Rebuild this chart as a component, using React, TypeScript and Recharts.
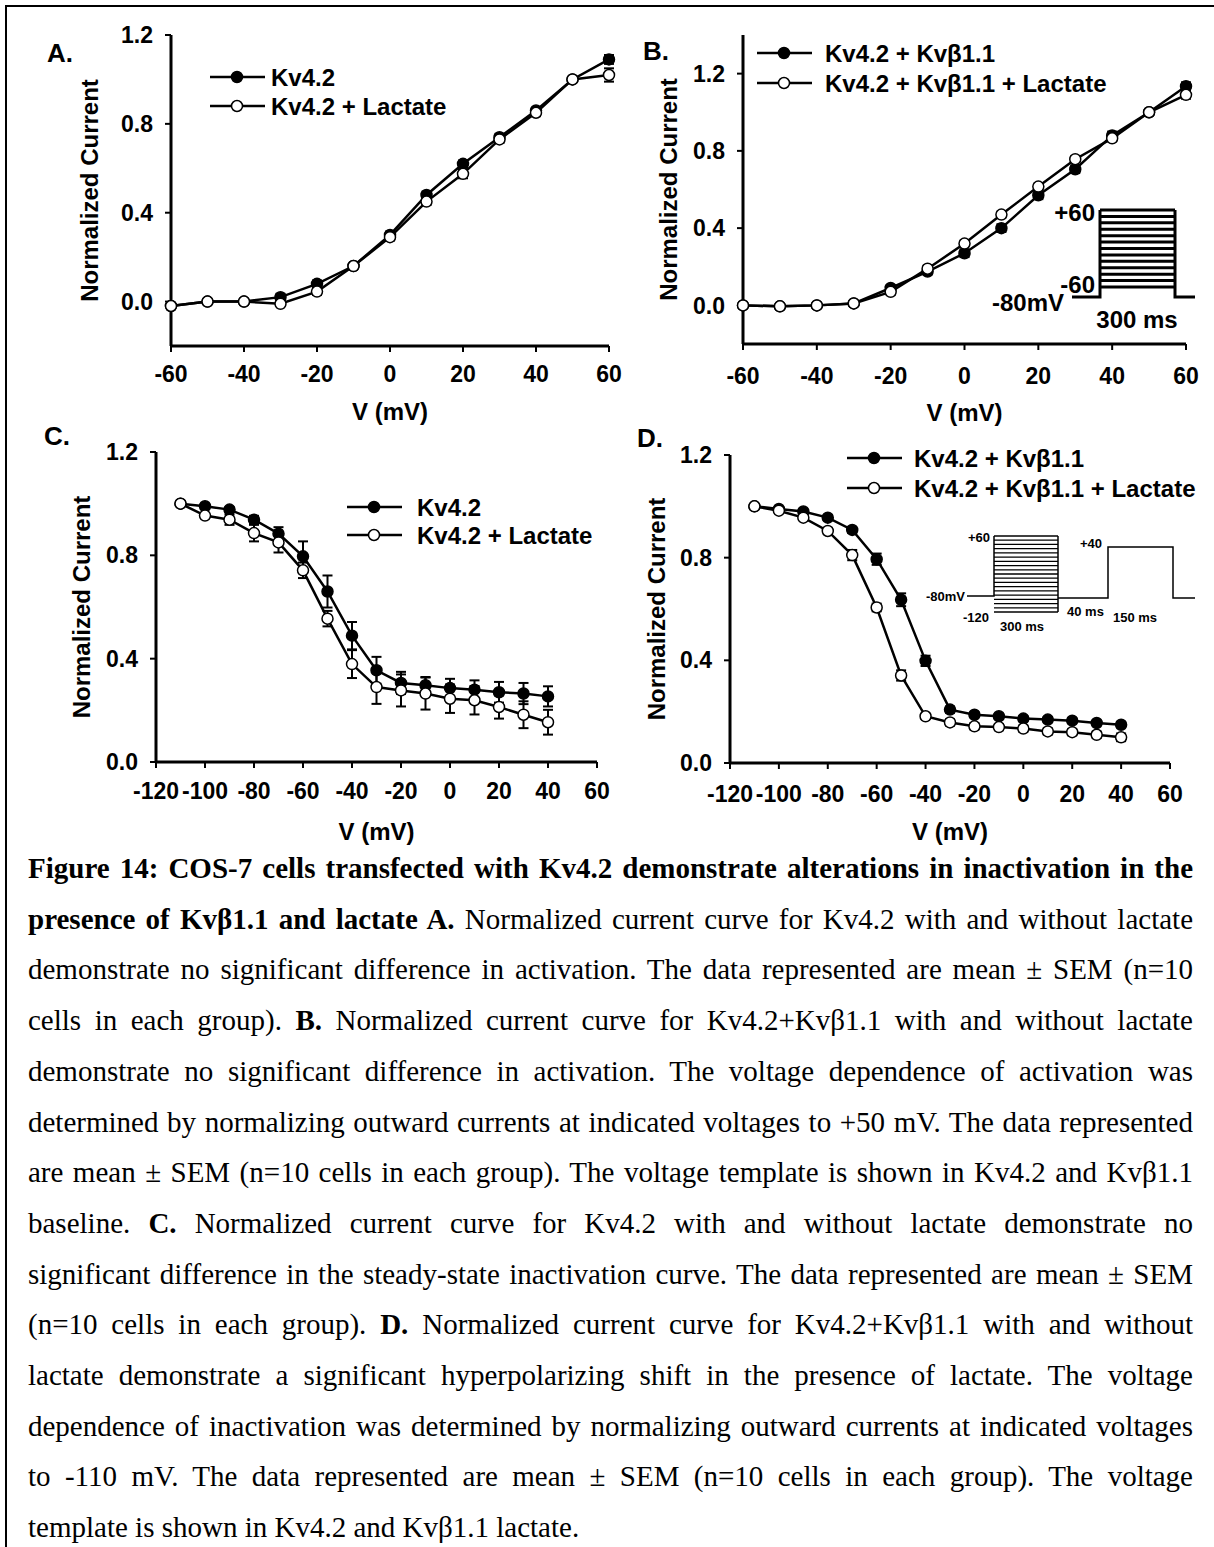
import React from 'react';
import { LineChart, Line, XAxis, YAxis, ErrorBar, Legend } from 'recharts';

const FONT = "'Liberation Sans', Arial, Helvetica, sans-serif";
const SERIF = "'Liberation Serif', 'Times New Roman', serif";

// A + B: activation, -60..+60 mV
const actVolts = [-60, -50, -40, -30, -20, -10, 0, 10, 20, 30, 40, 50, 60];
const aKv = [-0.02, 0.0, 0.0, 0.02, 0.08, 0.16, 0.3, 0.48, 0.62, 0.74, 0.86, 1.0, 1.09];
const aKvErr = [0.01, 0.005, 0.005, 0.015, 0.015, 0.01, 0.015, 0.015, 0.015, 0.015, 0.01, 0, 0.02];
const aLac = [-0.02, 0.0, 0.0, -0.01, 0.045, 0.16, 0.29, 0.45, 0.575, 0.73, 0.85, 1.0, 1.02];
const aLacErr = [0.01, 0.005, 0.005, 0.01, 0.015, 0.01, 0.015, 0.015, 0.02, 0.015, 0.015, 0, 0.03];

const bKv = [0.0, -0.005, 0.0, 0.01, 0.09, 0.175, 0.27, 0.4, 0.57, 0.705, 0.88, 1.0, 1.135];
const bKvErr = [0.005, 0.005, 0.005, 0.01, 0.015, 0.015, 0.02, 0.02, 0.02, 0.02, 0.02, 0, 0.02];
const bLac = [0.0, -0.005, 0.0, 0.01, 0.07, 0.19, 0.32, 0.47, 0.615, 0.757, 0.865, 1.0, 1.09];
const bLacErr = [0.005, 0.005, 0.005, 0.01, 0.015, 0.015, 0.015, 0.015, 0.015, 0.015, 0.015, 0, 0.02];

// C + D: steady-state inactivation, -110..+40 mV
const inactVolts = [-110, -100, -90, -80, -70, -60, -50, -40, -30, -20, -10, 0, 10, 20, 30, 40];
const cKv = [1.0, 0.99, 0.977, 0.938, 0.884, 0.796, 0.66, 0.489, 0.355, 0.306, 0.297, 0.286, 0.28, 0.27, 0.265, 0.254];
const cKvErr = [0, 0.01, 0.01, 0.015, 0.025, 0.058, 0.062, 0.053, 0.052, 0.043, 0.032, 0.036, 0.036, 0.04, 0.041, 0.039];
const cLac = [1.0, 0.954, 0.938, 0.886, 0.85, 0.742, 0.555, 0.379, 0.29, 0.277, 0.265, 0.245, 0.239, 0.213, 0.183, 0.154];
const cLacErr = [0, 0.01, 0.02, 0.032, 0.039, 0.03, 0.03, 0.054, 0.065, 0.062, 0.062, 0.055, 0.055, 0.045, 0.052, 0.048];

const dKv = [1.0, 0.99, 0.98, 0.956, 0.908, 0.794, 0.636, 0.398, 0.208, 0.188, 0.182, 0.173, 0.169, 0.165, 0.156, 0.149];
const dKvErr = [0, 0.005, 0.008, 0.01, 0.012, 0.022, 0.025, 0.02, 0.012, 0.01, 0.01, 0.01, 0.01, 0.01, 0.01, 0.01];
const dLac = [1.0, 0.983, 0.956, 0.904, 0.81, 0.606, 0.341, 0.182, 0.158, 0.143, 0.14, 0.134, 0.123, 0.12, 0.11, 0.1];
const dLacErr = [0, 0.005, 0.008, 0.012, 0.02, 0.015, 0.02, 0.01, 0.012, 0.012, 0.012, 0.012, 0.012, 0.012, 0.012, 0.015];

const actTicks = [-60, -40, -20, 0, 20, 40, 60];
const inactTicks = [-120, -100, -80, -60, -40, -20, 0, 20, 40, 60];
const currentTicks = [0, 0.4, 0.8, 1.2];

const namesKv = ['Kv4.2', 'Kv4.2 + Lactate'];
const namesBeta = ['Kv4.2 + Kvβ1.1', 'Kv4.2 + Kvβ1.1 + Lactate'];

// voltage protocol steps for the two inset templates
const stepsB = [-60, -50, -40, -30, -20, -10, 0, 10, 20, 30, 40, 50, 60];
const stepsD = [-120, -110, -100, -90, -80, -70, -60, -50, -40, -30, -20, -10, 0, 10, 20, 30, 40, 50, 60];

const CAPTION: [string, boolean][][] = [
  [['Figure 14: COS-7 cells transfected with Kv4.2 demonstrate alterations in inactivation in the', true]],
  [['presence of Kvβ1.1 and lactate A.', true], [' Normalized current curve for Kv4.2 with and without lactate', false]],
  [['demonstrate no significant difference in activation. The data represented are mean ± SEM (n=10', false]],
  [['cells in each group). ', false], ['B.', true], [' Normalized current curve for Kv4.2+Kvβ1.1 with and without lactate', false]],
  [['demonstrate no significant difference in activation. The voltage dependence of activation was', false]],
  [['determined by normalizing outward currents at indicated voltages to +50 mV. The data represented', false]],
  [['are mean ± SEM (n=10 cells in each group). The voltage template is shown in Kv4.2 and Kvβ1.1', false]],
  [['baseline. ', false], ['C.', true], [' Normalized current curve for Kv4.2 with and without lactate demonstrate no', false]],
  [['significant difference in the steady-state inactivation curve. The data represented are mean ± SEM', false]],
  [['(n=10 cells in each group). ', false], ['D.', true], [' Normalized current curve for Kv4.2+Kvβ1.1 with and without', false]],
  [['lactate demonstrate a significant hyperpolarizing shift in the presence of lactate. The voltage', false]],
  [['dependence of inactivation was determined by normalizing outward currents at indicated voltages', false]],
  [['to -110 mV. The data represented are mean ± SEM (n=10 cells in each group). The voltage', false]],
  [['template is shown in Kv4.2 and Kvβ1.1 lactate.', false]],
];

const Y_W = 110;
const X_H = 90;
const M_T = 12;
const M_R = 30;

const rowsOf = (v: number[], s1: number[], e1: number[], s2: number[], e2: number[]) =>
  v.map((x, i) => ({ v: x, s1: s1[i], e1: e1[i], s2: s2[i], e2: e2[i] }));

const tickStyle = { fill: '#000', fontSize: 23, fontWeight: 700, fontFamily: FONT };

type Box = { l: number; r: number; t: number; b: number };
type Leg = { x: number; y: number; gap: number; textDx: number };

function LegendMarks({ payload, names, leg }: { payload?: any[]; names: string[]; leg: Leg }) {
  const items = payload && payload.length ? payload.map((p) => String(p.value)) : names;
  return (
    <svg width={420} height={leg.gap + 32} style={{ overflow: 'visible', display: 'block' }}>
      {items.map((n, i) => {
        const y = 15 + i * leg.gap;
        return (
          <g key={n}>
            <line x1={0} y1={y} x2={55} y2={y} stroke="#000" strokeWidth={2.5} />
            <circle cx={27} cy={y} r={5.5} fill={i === 0 ? '#000' : '#fff'} stroke="#000" strokeWidth={1.5} />
            <text x={leg.textDx} y={y} dominantBaseline="central" fontSize={24} fontWeight={700} fontFamily={FONT} fill="#000">
              {n}
            </text>
          </g>
        );
      })}
    </svg>
  );
}

function Panel(props: {
  rows: any[];
  box: Box;
  xDomain: [number, number];
  xTicks: number[];
  yDomain: [number, number];
  names: string[];
  xTickGap: number;
  xLabelGap: number;
  yLabelGap: number;
  leg: Leg;
}) {
  const { rows, box, xDomain, xTicks, yDomain, names, xTickGap, xLabelGap, yLabelGap, leg } = props;
  const width = box.r - box.l + Y_W + M_R;
  const height = box.b - box.t + M_T + X_H;
  const left = box.l - Y_W;
  const top = box.t - M_T;
  return (
    <div style={{ position: 'absolute', left, top, width, height }}>
      <LineChart width={width} height={height} data={rows} margin={{ top: M_T, right: M_R, left: 0, bottom: 0 }}>
        <XAxis
          type="number"
          dataKey="v"
          domain={xDomain}
          ticks={xTicks}
          interval={0}
          height={X_H}
          axisLine={{ stroke: '#000', strokeWidth: 3 }}
          tickLine={{ stroke: '#000', strokeWidth: 2 }}
          tickSize={6}
          tickMargin={xTickGap}
          tick={tickStyle}
          label={{
            value: 'V (mV)',
            position: 'insideBottom',
            offset: X_H - xLabelGap - 8,
            fill: '#000',
            fontSize: 24,
            fontWeight: 700,
            fontFamily: FONT,
          }}
        />
        <YAxis
          type="number"
          domain={yDomain}
          ticks={currentTicks}
          interval={0}
          width={Y_W}
          tickFormatter={(v: number) => v.toFixed(1)}
          axisLine={{ stroke: '#000', strokeWidth: 3 }}
          tickLine={{ stroke: '#000', strokeWidth: 2 }}
          tickSize={6}
          tickMargin={12}
          tick={tickStyle}
          label={{
            value: 'Normalized Current',
            angle: -90,
            position: 'insideLeft',
            offset: Y_W - yLabelGap,
            style: { textAnchor: 'middle' },
            fill: '#000',
            fontSize: 24,
            fontWeight: 700,
            fontFamily: FONT,
          }}
        />
        <Legend
          layout="vertical"
          align="center"
          verticalAlign="middle"
          wrapperStyle={{ left: leg.x - left, top: leg.y - 15 - top, width: 'auto' }}
          content={(p: any) => <LegendMarks payload={p.payload} names={names} leg={leg} />}
        />
        <Line
          dataKey="s1"
          name={names[0]}
          type="linear"
          stroke="#000"
          strokeWidth={2.5}
          dot={{ r: 5.5, fill: '#000', stroke: '#000', strokeWidth: 1.5 }}
          activeDot={false}
          isAnimationActive={false}
        >
          <ErrorBar dataKey="e1" direction="y" width={5} stroke="#000" strokeWidth={2} />
        </Line>
        <Line
          dataKey="s2"
          name={names[1]}
          type="linear"
          stroke="#000"
          strokeWidth={2.5}
          dot={{ r: 5.5, fill: '#fff', stroke: '#000', strokeWidth: 1.5 }}
          activeDot={false}
          isAnimationActive={false}
        >
          <ErrorBar dataKey="e2" direction="y" width={5} stroke="#000" strokeWidth={2} />
        </Line>
      </LineChart>
    </div>
  );
}

const boldText = { fontFamily: FONT, fontWeight: 700, fill: '#000' } as const;

function Insets() {
  // B: activation protocol, steps from -60 to +60 mV
  const bTop = 210;
  const bBot = 287;
  const yB = (v: number) => bBot - ((v + 60) / 120) * (bBot - bTop);
  // D: inactivation protocol, prepulses from -120 to +60 mV
  const dTop = 536;
  const dBot = 612;
  const yD = (v: number) => dBot - ((v + 120) / 180) * (dBot - dTop);
  return (
    <svg width={1199} height={850} style={{ position: 'absolute', left: 0, top: 0 }}>
      <text x={47} y={62} fontSize={26} {...boldText}>A.</text>
      <text x={643} y={60} fontSize={26} {...boldText}>B.</text>
      <text x={44} y={445} fontSize={26} {...boldText}>C.</text>
      <text x={637} y={447} fontSize={26} {...boldText}>D.</text>

      {stepsB.map((v) => (
        <line key={v} x1={1100} x2={1175} y1={yB(v)} y2={yB(v)} stroke="#000" strokeWidth={3} />
      ))}
      <path d="M1072 297 H1100 V210 M1175 210 V297 H1195" fill="none" stroke="#000" strokeWidth={3} />
      <text x={1095} y={212} fontSize={24} textAnchor="end" dominantBaseline="central" {...boldText}>+60</text>
      <text x={1095} y={284} fontSize={24} textAnchor="end" dominantBaseline="central" {...boldText}>-60</text>
      <text x={1064} y={302} fontSize={24} textAnchor="end" dominantBaseline="central" {...boldText}>-80mV</text>
      <text x={1137} y={319} fontSize={24} textAnchor="middle" dominantBaseline="central" {...boldText}>300 ms</text>

      {stepsD.map((v) => (
        <line key={v} x1={994} x2={1058} y1={yD(v)} y2={yD(v)} stroke="#000" strokeWidth={1.3} />
      ))}
      <path d="M967 596 H994 V536 M1058 536 V612 M1058 598 H1108 V547 H1173 V598 H1195" fill="none" stroke="#000" strokeWidth={1.5} />
      <text x={990} y={537} fontSize={13} textAnchor="end" dominantBaseline="central" {...boldText}>+60</text>
      <text x={1102} y={543} fontSize={13} textAnchor="end" dominantBaseline="central" {...boldText}>+40</text>
      <text x={965} y={596} fontSize={13} textAnchor="end" dominantBaseline="central" {...boldText}>-80mV</text>
      <text x={989} y={617} fontSize={13} textAnchor="end" dominantBaseline="central" {...boldText}>-120</text>
      <text x={1022} y={626} fontSize={13} textAnchor="middle" dominantBaseline="central" {...boldText}>300 ms</text>
      <text x={1067} y={611} fontSize={13} dominantBaseline="central" {...boldText}>40 ms</text>
      <text x={1113} y={617} fontSize={13} dominantBaseline="central" {...boldText}>150 ms</text>
    </svg>
  );
}

export default function App() {
  return (
    <div style={{ position: 'absolute', left: 0, top: 0, width: 1214, height: 1547, background: '#fff', overflow: 'hidden' }}>
      <div style={{ position: 'absolute', left: 5, top: 5, width: 1220, height: 1560, borderTop: '2px solid #000', borderLeft: '2px solid #000' }} />
      <div style={{ position: 'absolute', left: 0, top: 0, width: 1199, height: 850, overflow: 'hidden' }}>
        <Panel
          rows={rowsOf(actVolts, aKv, aKvErr, aLac, aLacErr)}
          box={{ l: 171, r: 609, t: 35, b: 346 }}
          xDomain={[-60, 60]}
          xTicks={actTicks}
          yDomain={[-0.2, 1.2]}
          names={namesKv}
          xTickGap={14}
          xLabelGap={66}
          yLabelGap={82}
          leg={{ x: 210, y: 77, gap: 29, textDx: 61 }}
        />
        <Panel
          rows={rowsOf(actVolts, bKv, bKvErr, bLac, bLacErr)}
          box={{ l: 743, r: 1186, t: 35, b: 344 }}
          xDomain={[-60, 60]}
          xTicks={actTicks}
          yDomain={[-0.2, 1.4]}
          names={namesBeta}
          xTickGap={18}
          xLabelGap={69}
          yLabelGap={75}
          leg={{ x: 757, y: 53, gap: 30, textDx: 68 }}
        />
        <Panel
          rows={rowsOf(inactVolts, cKv, cKvErr, cLac, cLacErr)}
          box={{ l: 156, r: 597, t: 452, b: 762 }}
          xDomain={[-120, 60]}
          xTicks={inactTicks}
          yDomain={[0, 1.2]}
          names={namesKv}
          xTickGap={15}
          xLabelGap={70}
          yLabelGap={75}
          leg={{ x: 347, y: 507, gap: 28, textDx: 70 }}
        />
        <Panel
          rows={rowsOf(inactVolts, dKv, dKvErr, dLac, dLacErr)}
          box={{ l: 730, r: 1170, t: 455, b: 763 }}
          xDomain={[-120, 60]}
          xTicks={inactTicks}
          yDomain={[0, 1.2]}
          names={namesBeta}
          xTickGap={17}
          xLabelGap={69}
          yLabelGap={74}
          leg={{ x: 847, y: 458, gap: 30, textDx: 67 }}
        />
        <Insets />
      </div>
      <div style={{ position: 'absolute', left: 28, top: 843, width: 1165, fontFamily: SERIF, fontSize: 29, lineHeight: '50.7px', color: '#000' }}>
        {CAPTION.map((line, i) => {
          const last = i === CAPTION.length - 1;
          return (
            <div key={i} style={{ textAlign: last ? 'left' : 'justify', textAlignLast: last ? 'left' : 'justify' }}>
              {line.map(([t, b], j) => (
                <span key={j} style={{ fontWeight: b ? 700 : 400 }}>{t}</span>
              ))}
            </div>
          );
        })}
      </div>
    </div>
  );
}
